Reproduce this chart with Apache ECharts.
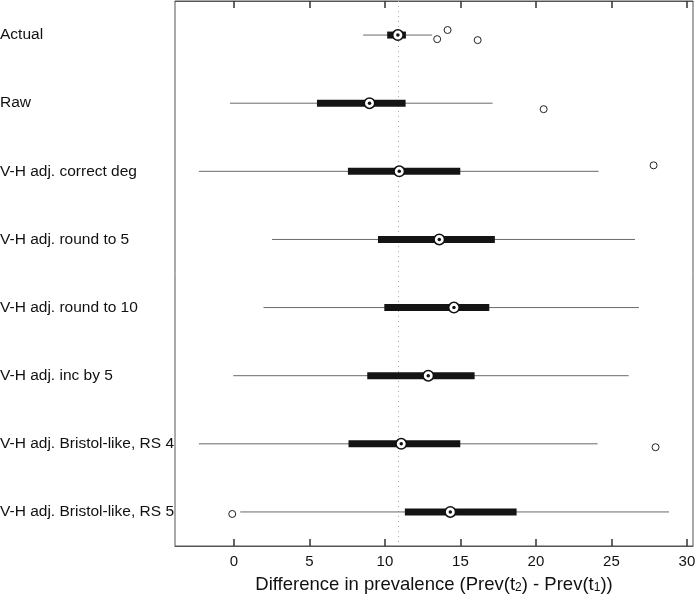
<!DOCTYPE html>
<html>
<head>
<meta charset="utf-8">
<script src="https://cdn.jsdelivr.net/npm/echarts@6/dist/echarts.min.js"></script>
<style>
html,body{margin:0;padding:0;background:#fff;}
#chart{width:696px;height:599px;}
</style>
</head>
<body>
<div id="chart"></div>
<script>
const categories = ['Actual','Raw','V-H adj. correct deg','V-H adj. round to 5','V-H adj. round to 10','V-H adj. inc by 5','V-H adj. Bristol-like, RS 4','V-H adj. Bristol-like, RS 5'];
const whiskerLow  = [8.56, -0.26, -2.32, 2.52, 1.96, -0.04, -2.32, 0.42];
const q1          = [10.15, 5.50, 7.55, 9.54, 9.96, 8.83, 7.59, 11.32];
const median      = [10.86, 8.98, 10.95, 13.60, 14.57, 12.87, 11.08, 14.33];
const q3          = [11.39, 11.37, 14.99, 17.28, 16.91, 15.94, 14.99, 18.72];
const whiskerHigh = [13.13, 17.13, 24.15, 26.56, 26.82, 26.14, 24.08, 28.81];
const outlierRow    = [0, 0, 0, 1, 2, 6, 7];
const outlierValue  = [14.15, 13.46, 16.14, 20.51, 27.79, 27.92, -0.11];
const outlierJitter = [-0.074, 0.06, 0.074, 0.088, -0.088, 0.05, 0.03];
const xTicks = [0, 5, 10, 15, 20, 25, 30];
const xMin = -3.9, xMax = 30.4;
const refLine = median[0];

const FONT = 'Liberation Sans, Arial, Helvetica, sans-serif';
const boxData = categories.map((c, i) => [i, whiskerLow[i], q1[i], median[i], q3[i], whiskerHigh[i]]);
const medData = categories.map((c, i) => [median[i], i]);
const outData = outlierValue.map((v, k) => [v, outlierRow[k] + outlierJitter[k]]);

const chart = echarts.init(document.getElementById('chart'), null, {renderer: 'canvas'});
function ticks() { return {show: true, inside: true, length: 7, lineStyle: {color: '#333', width: 1.5}, customValues: xTicks.slice()}; }
chart.setOption({
  animation: false,
  backgroundColor: '#fff',
  grid: {left: 175, right: 3, top: 1, bottom: 53, show: true, borderColor: '#555', borderWidth: 1,
         backgroundColor: 'transparent', outerBoundsMode: 'none', containLabel: false},
  xAxis: [{
    type: 'value', min: xMin, max: xMax, position: 'bottom',
    axisLine: {show: true, onZero: false, lineStyle: {color: '#555', width: 1}},
    axisTick: ticks(),
    splitLine: {show: false},
    axisLabel: {customValues: xTicks.slice(), fontSize: 15, color: '#111', fontFamily: FONT, margin: 8},
    name: '{a|Difference in prevalence (Prev(t}{s|2}{a|) - Prev(t}{s|1}{a|))}',
    nameLocation: 'middle', nameGap: 26,
    nameTextStyle: {
      fontFamily: FONT, color: '#111',
      rich: {
        a: {fontSize: 18.5, fontFamily: FONT, color: '#111', lineHeight: 22, verticalAlign: 'bottom'},
        s: {fontSize: 12, fontFamily: FONT, color: '#111', lineHeight: 8, verticalAlign: 'bottom'}
      }
    }
  }, {
    type: 'value', min: xMin, max: xMax, position: 'top',
    axisLine: {show: true, onZero: false, lineStyle: {color: '#555', width: 1}},
    axisTick: ticks(),
    splitLine: {show: false},
    axisLabel: {show: false}
  }],
  yAxis: {
    type: 'value', min: -0.5, max: 7.5, inverse: true,
    axisLine: {show: false, onZero: false}, axisTick: {show: false}, splitLine: {show: false},
    axisLabel: {
      customValues: categories.map((c, i) => i),
      formatter: v => categories[Math.round(v)] || '',
      align: 'left', margin: 175, fontSize: 15.5, color: '#111', fontFamily: FONT
    }
  },
  series: [{
    type: 'custom',
    xAxisIndex: 0,
    data: boxData,
    encode: {x: [1, 2, 3, 4, 5], y: 0},
    z: 3,
    renderItem: function (params, api) {
      const y = api.value(0);
      const lo = api.coord([api.value(1), y]);
      const a = api.coord([api.value(2), y]);
      const b = api.coord([api.value(4), y]);
      const hi = api.coord([api.value(5), y]);
      return {
        type: 'group',
        children: [
          {type: 'line', shape: {x1: lo[0], y1: lo[1], x2: hi[0], y2: hi[1]}, style: {stroke: '#6a6a6a', lineWidth: 1}},
          {type: 'rect', shape: {x: a[0], y: a[1] - 3.5, width: b[0] - a[0], height: 7}, style: {fill: '#141414'}}
        ]
      };
    },
    markLine: {
      silent: true, symbol: ['none', 'none'], label: {show: false},
      lineStyle: {color: '#aaa', type: [1, 4], width: 1},
      data: [{xAxis: refLine}],
      z: 1
    }
  }, {
    type: 'scatter', data: medData, symbol: 'circle', symbolSize: 10.5, z: 4,
    itemStyle: {color: '#fff', borderColor: '#111', borderWidth: 1.6, opacity: 1}
  }, {
    type: 'scatter', data: medData, symbol: 'circle', symbolSize: 3.5, z: 5,
    itemStyle: {color: '#111', opacity: 1}
  }, {
    type: 'scatter', data: outData, symbol: 'circle', symbolSize: 7, z: 4,
    itemStyle: {color: '#fff', borderColor: '#222', borderWidth: 1, opacity: 1}
  }]
});
</script>
</body>
</html>
